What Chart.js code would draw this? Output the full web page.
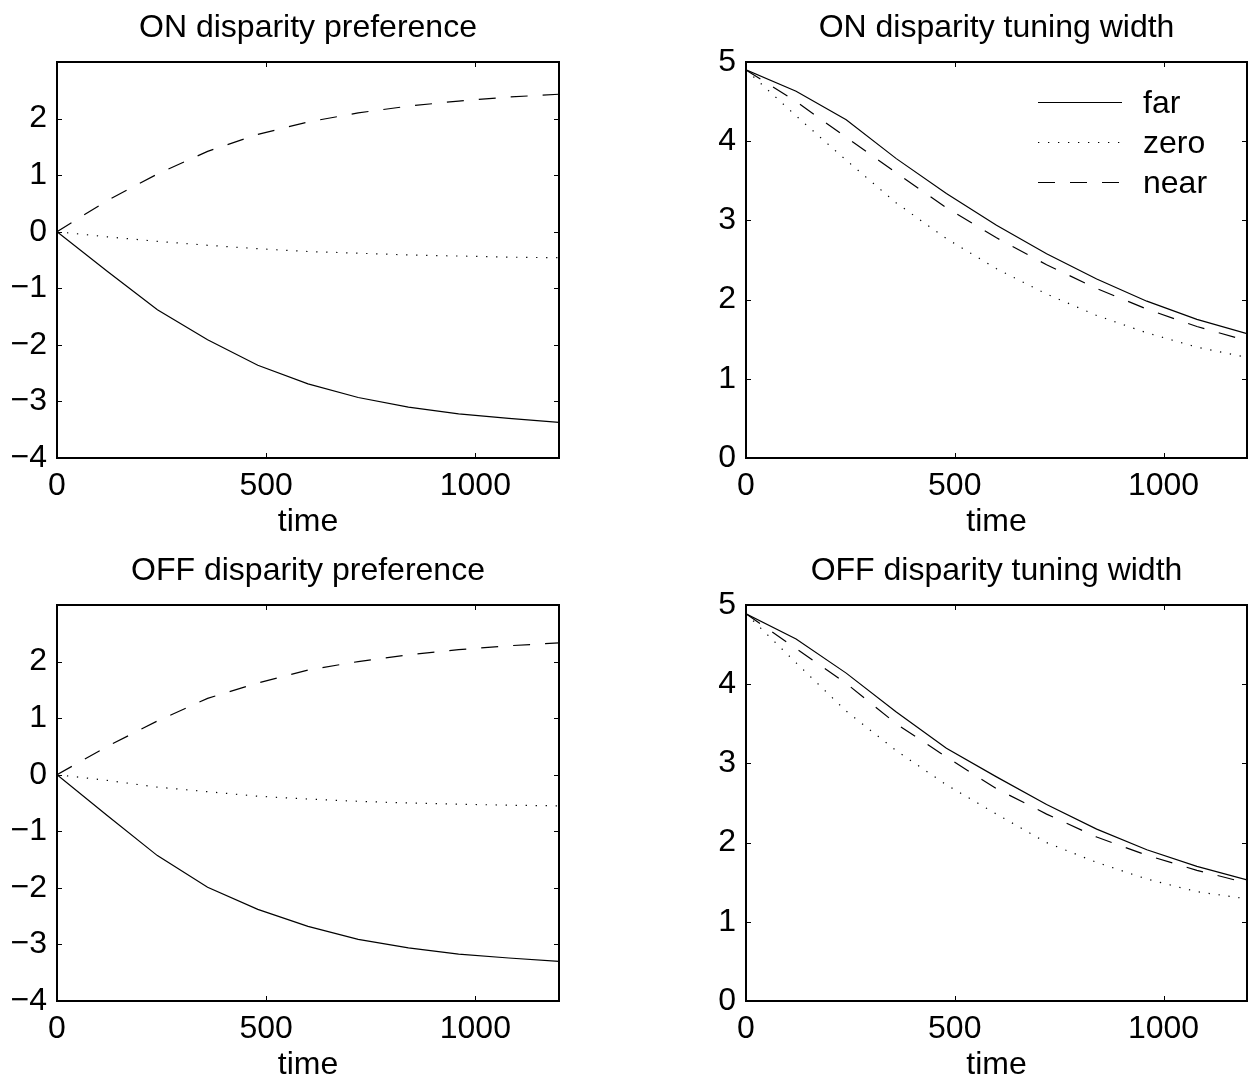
<!DOCTYPE html>
<html>
<head>
<meta charset="utf-8">
<script src="https://cdn.jsdelivr.net/npm/chart.js@4.4.0/dist/chart.umd.min.js"></script>
<style>
  html, body { margin:0; padding:0; background:#fff; overflow:hidden; }
  #fig { position:relative; width:1248px; height:1076px; }
  .panel { position:absolute; }
</style>
</head>
<body>
<div id="fig">
  <div class="panel" style="left:0;top:0;width:620px;height:533px"><canvas id="on-pref"></canvas></div>
  <div class="panel" style="left:680px;top:0;width:568px;height:533px"><canvas id="on-width"></canvas></div>
  <div class="panel" style="left:0;top:543px;width:620px;height:533px"><canvas id="off-pref"></canvas></div>
  <div class="panel" style="left:680px;top:543px;width:568px;height:533px"><canvas id="off-width"></canvas></div>
</div>
<script>
// ─── Data ─────────────────────────────────────────────────────────────────────
const TIME = [0, 120, 240, 360, 480, 600, 720, 840, 960, 1080, 1200];

const ON_PREF_FAR  = [0, -0.70, -1.38, -1.91, -2.36, -2.69, -2.93, -3.10, -3.22, -3.30, -3.37];
const ON_PREF_ZERO = [0, -0.09, -0.17, -0.24, -0.30, -0.35, -0.38, -0.41, -0.43, -0.45, -0.46];
const ON_PREF_NEAR = [0, 0.55, 1.02, 1.42, 1.72, 1.94, 2.10, 2.22, 2.31, 2.38, 2.43];

const OFF_PREF_FAR  = [0, -0.72, -1.43, -1.99, -2.38, -2.68, -2.91, -3.06, -3.17, -3.24, -3.30];
const OFF_PREF_ZERO = [0, -0.10, -0.22, -0.30, -0.38, -0.43, -0.47, -0.50, -0.52, -0.54, -0.55];
const OFF_PREF_NEAR = [0, 0.50, 0.95, 1.35, 1.62, 1.85, 2.00, 2.12, 2.21, 2.28, 2.33];

const ON_WIDTH_FAR  = [4.90, 4.63, 4.27, 3.78, 3.34, 2.94, 2.58, 2.26, 1.98, 1.75, 1.57];
const ON_WIDTH_ZERO = [4.90, 4.32, 3.76, 3.22, 2.77, 2.39, 2.07, 1.80, 1.58, 1.40, 1.27];
const ON_WIDTH_NEAR = [4.90, 4.50, 4.05, 3.60, 3.16, 2.78, 2.44, 2.14, 1.88, 1.66, 1.48];

const OFF_WIDTH_FAR  = [4.89, 4.57, 4.14, 3.65, 3.19, 2.83, 2.48, 2.17, 1.91, 1.70, 1.53];
const OFF_WIDTH_ZERO = [4.89, 4.27, 3.66, 3.16, 2.73, 2.36, 2.00, 1.75, 1.54, 1.38, 1.29];
const OFF_WIDTH_NEAR = [4.89, 4.45, 4.01, 3.50, 3.08, 2.68, 2.36, 2.07, 1.84, 1.65, 1.49];

const SERIES_LABELS = ['far', 'zero', 'near'];
const X_TICKS = [0, 500, 1000];
const PREF_Y_TICKS = [-4, -3, -2, -1, 0, 1, 2];
const WIDTH_Y_TICKS = [0, 1, 2, 3, 4, 5];

// ─── Style ────────────────────────────────────────────────────────────────────
const FONT_FAMILY = "'Liberation Sans', Arial, Helvetica, sans-serif";
const FONT = { family: FONT_FAMILY, size: 32, weight: 'normal', lineHeight: 1.2 };
const DASHES = [[], [1.3, 8.7], [17, 15]];
const TICK_LEN = 5;

// MATLAB-ish box: frame plus inward ticks on all four sides
const boxTicks = {
  id: 'boxTicks',
  afterDatasetsDraw(chart) {
    const { ctx, chartArea: a, scales: { x, y } } = chart;
    ctx.save();
    ctx.strokeStyle = '#000';
    ctx.lineWidth = 1;
    ctx.beginPath();
    x.ticks.forEach(t => {
      const px = Math.round(x.getPixelForValue(t.value)) + 0.5;
      ctx.moveTo(px, a.bottom); ctx.lineTo(px, a.bottom - TICK_LEN);
      ctx.moveTo(px, a.top); ctx.lineTo(px, a.top + TICK_LEN);
    });
    y.ticks.forEach(t => {
      const py = Math.round(y.getPixelForValue(t.value)) + 0.5;
      ctx.moveTo(a.left, py); ctx.lineTo(a.left + TICK_LEN, py);
      ctx.moveTo(a.right, py); ctx.lineTo(a.right - TICK_LEN, py);
    });
    ctx.stroke();
    ctx.lineWidth = 2;
    ctx.strokeRect(a.left, a.top, a.width, a.height);
    ctx.restore();
  }
};

// legend inside the top-right of the plot, no frame
const innerLegend = {
  id: 'innerLegend',
  afterDraw(chart) {
    const { ctx, chartArea: a } = chart;
    ctx.save();
    ctx.font = `${FONT.size}px ${FONT_FAMILY}`;
    ctx.fillStyle = '#000';
    ctx.textBaseline = 'middle';
    ctx.textAlign = 'left';
    chart.data.datasets.forEach((ds, i) => {
      const yy = Math.round(a.top + 40 + i * 40) + 0.5;
      ctx.strokeStyle = '#000';
      ctx.lineWidth = ds.borderWidth;
      ctx.setLineDash(ds.borderDash || []);
      ctx.beginPath();
      ctx.moveTo(a.right - 209, yy);
      ctx.lineTo(a.right - 125, yy);
      ctx.stroke();
      ctx.setLineDash([]);
      ctx.fillText(ds.label, a.right - 104, yy + 2);
    });
    ctx.restore();
  }
};

function makePanel(id, title, yMin, yMax, yTicks, series, yAxisWidth, padRight, withLegend) {
  const ctx = document.getElementById(id).getContext('2d');
  return new Chart(ctx, {
    type: 'line',
    data: {
      datasets: series.map((vals, i) => ({
        label: SERIES_LABELS[i],
        data: TIME.map((t, j) => ({ x: t, y: vals[j] })),
        borderColor: '#000', borderWidth: 1.2, borderDash: DASHES[i],
        pointRadius: 0, tension: 0, fill: false,
      }))
    },
    options: {
      responsive: true, maintainAspectRatio: false, animation: false,
      layout: { padding: { left: 0, right: padRight, top: 0, bottom: 0 } },
      plugins: {
        legend: { display: false },
        tooltip: { enabled: false },
        title: {
          display: true, text: title, fullSize: false, color: '#000',
          font: FONT, padding: { top: 8.8, bottom: 14.8 }
        }
      },
      scales: {
        x: {
          type: 'linear', min: 0, max: 1200,
          afterBuildTicks: s => { s.ticks = X_TICKS.map(v => ({ value: v })); },
          afterFit: s => { s.height = 75; },
          grid: { display: false, drawTicks: false }, border: { display: false },
          ticks: { color: '#000', font: FONT, padding: 9.3, maxRotation: 0, autoSkip: false,
                   callback: v => String(v) },
          title: { display: true, text: 'time', color: '#000', font: { ...FONT, lineHeight: 0.7 }, padding: 0 }
        },
        y: {
          min: yMin, max: yMax,
          afterBuildTicks: s => { s.ticks = yTicks.map(v => ({ value: v })); },
          afterFit: s => { s.width = yAxisWidth; },
          grid: { display: false, drawTicks: false }, border: { display: false },
          ticks: { color: '#000', font: FONT, padding: 10, callback: v => String(v).replace('-', '\u2212') }
        }
      }
    },
    plugins: withLegend ? [boxTicks, innerLegend] : [boxTicks]
  });
}

makePanel('on-pref', 'ON disparity preference', -4, 3, PREF_Y_TICKS,
  [ON_PREF_FAR, ON_PREF_ZERO, ON_PREF_NEAR], 57, 61, false);
makePanel('on-width', 'ON disparity tuning width', 0, 5, WIDTH_Y_TICKS,
  [ON_WIDTH_FAR, ON_WIDTH_ZERO, ON_WIDTH_NEAR], 66, 1, true);
makePanel('off-pref', 'OFF disparity preference', -4, 3, PREF_Y_TICKS,
  [OFF_PREF_FAR, OFF_PREF_ZERO, OFF_PREF_NEAR], 57, 61, false);
makePanel('off-width', 'OFF disparity tuning width', 0, 5, WIDTH_Y_TICKS,
  [OFF_WIDTH_FAR, OFF_WIDTH_ZERO, OFF_WIDTH_NEAR], 66, 1, false);
</script>
</body>
</html>
